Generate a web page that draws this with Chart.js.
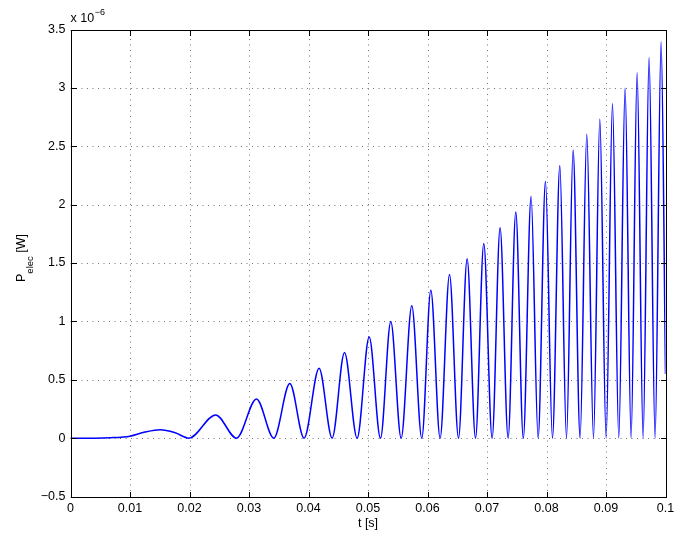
<!DOCTYPE html>
<html>
<head>
<meta charset="utf-8">
<title>P_elec vs t</title>
<script src="https://cdn.jsdelivr.net/npm/chart.js@4.4.1/dist/chart.umd.min.js"></script>
<style>
  html, body { margin: 0; padding: 0; background: #fff; }
  #wrap { width: 695px; height: 537px; }
</style>
</head>
<body>
<div id="wrap"><canvas id="pChart" width="695" height="537"></canvas></div>
<script>
// =====================================================
//  DATA (peaks / zeros of P_elec)
// =====================================================

/** time [s] */
const timeS = [
  0, 0.004, 0.0067, 0.010, 0.0125, 0.0151, 0.0176, 0.0199,
  0.0244, 0.0279, 0.03126, 0.03417, 0.03686, 0.03926, 0.04178, 0.04397,
  0.04605, 0.04817, 0.0502, 0.0521, 0.05383, 0.05557, 0.05736, 0.05904,
  0.06056, 0.06212, 0.0637, 0.06521, 0.06666, 0.06807, 0.06946, 0.07086,
  0.0722, 0.07355, 0.07484, 0.0761, 0.07741, 0.07859, 0.07983, 0.081,
  0.08224, 0.08336, 0.08447, 0.08565, 0.08677, 0.0879, 0.08896, 0.09002,
  0.09109, 0.09215, 0.09321, 0.09422, 0.09523, 0.09624, 0.09724, 0.09825,
  0.09926, 0.1
];

/** electrical power, in units of 1e-6 W */
const pElec = [
  0, 0, 0.003, 0.017, 0.052, 0.072, 0.046, 0,
  0.199, 0, 0.336, 0, 0.468, 0, 0.599, 0,
  0.733, 0, 0.867, 0, 0.999, 0, 1.133, 0,
  1.267, 0, 1.402, 0, 1.536, 0, 1.668, 0,
  1.801, 0, 1.936, 0, 2.070, 0, 2.201, 0,
  2.336, 0, 2.467, 0, 2.602, 0, 2.733, 0,
  2.867, 0, 2.998, 0, 3.129, 0, 3.261, 0,
  3.395, 0.55
];

const xTicks      = [0, 0.01, 0.02, 0.03, 0.04, 0.05, 0.06, 0.07, 0.08, 0.09, 0.1];
const xTickLabels = ["0", "0.01", "0.02", "0.03", "0.04", "0.05", "0.06", "0.07", "0.08", "0.09", "0.1"];
const yTicks      = [-0.5, 0, 0.5, 1, 1.5, 2, 2.5, 3, 3.5];
const yTickLabels = ["\u22120.5", "0", "0.5", "1", "1.5", "2", "2.5", "3", "3.5"];

const FONT = "'Liberation Sans', Arial, Helvetica, sans-serif";

// =====================================================
//  MATLAB-style axes: dotted grid, box, inward ticks, labels
// =====================================================
const matlabAxes = {
  id: "matlabAxes",
  beforeDatasetsDraw(chart) {
    const { ctx, chartArea: a, scales: { x, y } } = chart;
    ctx.save();
    ctx.strokeStyle = "rgba(0,0,0,0.55)";
    ctx.lineWidth = 1;
    ctx.setLineDash([1, 4.5]);
    xTicks.forEach(v => {
      const px = Math.round(x.getPixelForValue(v)) + 0.5;
      ctx.beginPath(); ctx.moveTo(px, a.bottom); ctx.lineTo(px, a.top); ctx.stroke();
    });
    yTicks.forEach(v => {
      const py = Math.round(y.getPixelForValue(v)) + 0.5;
      ctx.beginPath(); ctx.moveTo(a.left, py); ctx.lineTo(a.right, py); ctx.stroke();
    });
    ctx.restore();
  },
  afterDatasetsDraw(chart) {
    const { ctx, chartArea: a, scales: { x, y } } = chart;
    const L = Math.round(a.left) + 0.5, R = Math.round(a.right) + 0.5;
    const T = Math.round(a.top) + 0.5,  B = Math.round(a.bottom) + 0.5;
    const tick = 5.5;
    ctx.save();
    ctx.strokeStyle = "#000";
    ctx.lineWidth = 1;
    ctx.strokeRect(L, T, R - L, B - T);
    ctx.beginPath();
    xTicks.forEach(v => {
      const px = Math.round(x.getPixelForValue(v)) + 0.5;
      ctx.moveTo(px, B); ctx.lineTo(px, B - tick);
      ctx.moveTo(px, T); ctx.lineTo(px, T + tick);
    });
    yTicks.forEach(v => {
      const py = Math.round(y.getPixelForValue(v)) + 0.5;
      ctx.moveTo(L, py); ctx.lineTo(L + tick, py);
      ctx.moveTo(R, py); ctx.lineTo(R - tick, py);
    });
    ctx.stroke();

    // exponent "x 10^-6"
    ctx.fillStyle = "#000";
    ctx.textBaseline = "alphabetic";
    ctx.textAlign = "left";
    ctx.font = "12.5px " + FONT;
    ctx.fillText("x 10", a.left, 22.3);
    const w = ctx.measureText("x 10").width;
    ctx.font = "9px " + FONT;
    ctx.fillText("\u22126", a.left + w + 0.5, 15);

    // x axis title
    ctx.font = "12.5px " + FONT;
    ctx.textAlign = "center";
    ctx.fillText("t [s]", x.getPixelForValue(0.05), 527);

    // y axis title  P_elec [W]
    ctx.translate(25, 258);
    ctx.rotate(-Math.PI / 2);
    ctx.textAlign = "left";
    ctx.font = "12.5px " + FONT;
    const wP = ctx.measureText("P").width;
    const wW = ctx.measureText(" [W]").width;
    ctx.font = "9.5px " + FONT;
    const wSub = ctx.measureText("elec").width;
    let sx = -(wP + wSub + wW) / 2;
    ctx.font = "12.5px " + FONT;
    ctx.fillText("P", sx, 0);
    sx += wP;
    ctx.font = "9.5px " + FONT;
    ctx.fillText("elec", sx, 7.5);
    sx += wSub;
    ctx.font = "12.5px " + FONT;
    ctx.fillText(" [W]", sx, 0);
    ctx.restore();
  }
};

// =====================================================
//  CHART
// =====================================================
const ctx = document.getElementById("pChart").getContext("2d");

new Chart(ctx, {
  type: "line",
  data: {
    datasets: [{
      label: "P_elec",
      data: timeS.map((t, i) => ({ x: t, y: pElec[i] })),
      borderColor: "#0000ff",
      borderWidth: 1.5,
      pointRadius: 0,
      fill: false,
      cubicInterpolationMode: "monotone",
    }]
  },
  options: {
    responsive: false,
    devicePixelRatio: 1,
    animation: false,
    layout: { padding: { top: 29.5, right: 29.5, left: 0, bottom: 0 } },
    plugins: {
      legend: { display: false },
      tooltip: { enabled: false }
    },
    scales: {
      x: {
        type: "linear",
        min: 0,
        max: 0.1,
        afterBuildTicks: s => { s.ticks = xTicks.map(v => ({ value: v })); },
        afterFit: s => { s.height = 40.5; },
        grid: { display: false, drawTicks: false },
        border: { display: false },
        ticks: {
          autoSkip: false,
          maxRotation: 0,
          padding: 5,
          color: "#000",
          font: { family: FONT, size: 12.5 },
          callback: (v, i) => xTickLabels[i]
        }
      },
      y: {
        type: "linear",
        min: -0.5,
        max: 3.5,
        afterBuildTicks: s => { s.ticks = yTicks.map(v => ({ value: v })); },
        afterFit: s => { s.width = 70.5; },
        grid: { display: false, drawTicks: false },
        border: { display: false },
        ticks: {
          padding: 5,
          color: "#000",
          font: { family: FONT, size: 12.5 },
          callback: (v, i) => yTickLabels[i]
        }
      }
    }
  },
  plugins: [matlabAxes]
});
</script>
</body>
</html>
